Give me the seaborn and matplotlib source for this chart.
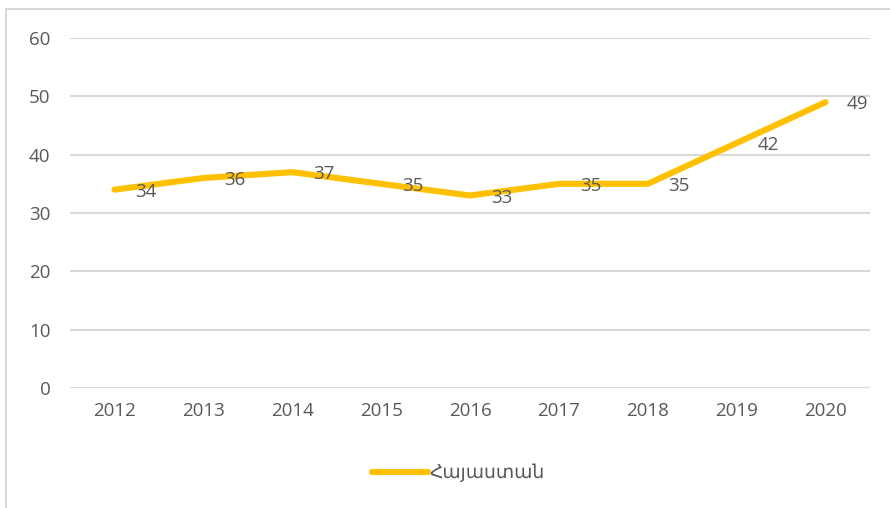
import numpy as np
import pandas as pd
import seaborn as sns
import matplotlib.pyplot as plt
from matplotlib.lines import Line2D

## chart data
years = ["2012", "2013", "2014", "2015", "2016", "2017", "2018", "2019", "2020"]
values = [34, 36, 37, 35, 33, 35, 35, 42, 49]
series_name = "Հայաստան"
y_ticks = [0, 10, 20, 30, 40, 50, 60]

## style
sns.set_theme(style="white")
plt.rcParams['font.family'] = ['Open Sans', 'DejaVu Sans']
TEXT = "#595959"
GRID = "#d9d9d9"
GOLD = "#ffc000"
FS = 13.5

df = pd.DataFrame({"year": years, "value": values})
df["pos"] = np.arange(len(years))

fig = plt.figure(figsize=(8.9, 5.08), dpi=100)
ax = fig.add_axes([70 / 890, 1 - 388 / 508, 800 / 890, 350 / 508])

sns.lineplot(data=df, x="pos", y="value", ax=ax, color=GOLD, linewidth=4.4,
             solid_capstyle="round", solid_joinstyle="round", legend=False)

# data labels to the right of each point
for x, y in zip(df["pos"], df["value"]):
    ax.annotate(str(y), (x, y), xytext=(15, -1.5), textcoords="offset points",
                ha="left", va="center", fontsize=FS, color=TEXT)

ax.set_xlim(-0.5, len(years) - 0.5)
ax.set_ylim(0, 60)
ax.set_xticks(df["pos"])
ax.set_xticklabels(years)
ax.set_yticks(y_ticks)
ax.tick_params(axis="both", length=0, labelsize=FS, labelcolor=TEXT)
ax.tick_params(axis="x", pad=10)
ax.tick_params(axis="y", pad=14)
ax.set_xlabel("")
ax.set_ylabel("")
ax.grid(axis="y", color=GRID, linewidth=1.5)
ax.set_axisbelow(True)
for s in ax.spines.values():
    s.set_visible(False)

# legend at the bottom
handle = Line2D([], [], color=GOLD, linewidth=4.4, solid_capstyle="round")
fig.legend([handle], [series_name], loc="center", bbox_to_anchor=(0.515, 1 - 473 / 508),
           frameon=False, fontsize=FS, labelcolor=TEXT, handlelength=3, handletextpad=0.1)

# chart-area border (top and left edges visible)
fig.add_artist(Line2D([6 / 890, 1], [1 - 9 / 508, 1 - 9 / 508], transform=fig.transFigure,
                      color=GRID, linewidth=1.5))
fig.add_artist(Line2D([6 / 890, 6 / 890], [0, 1 - 9 / 508], transform=fig.transFigure,
                      color=GRID, linewidth=1.5))

fig.savefig("out.png", dpi=100)
